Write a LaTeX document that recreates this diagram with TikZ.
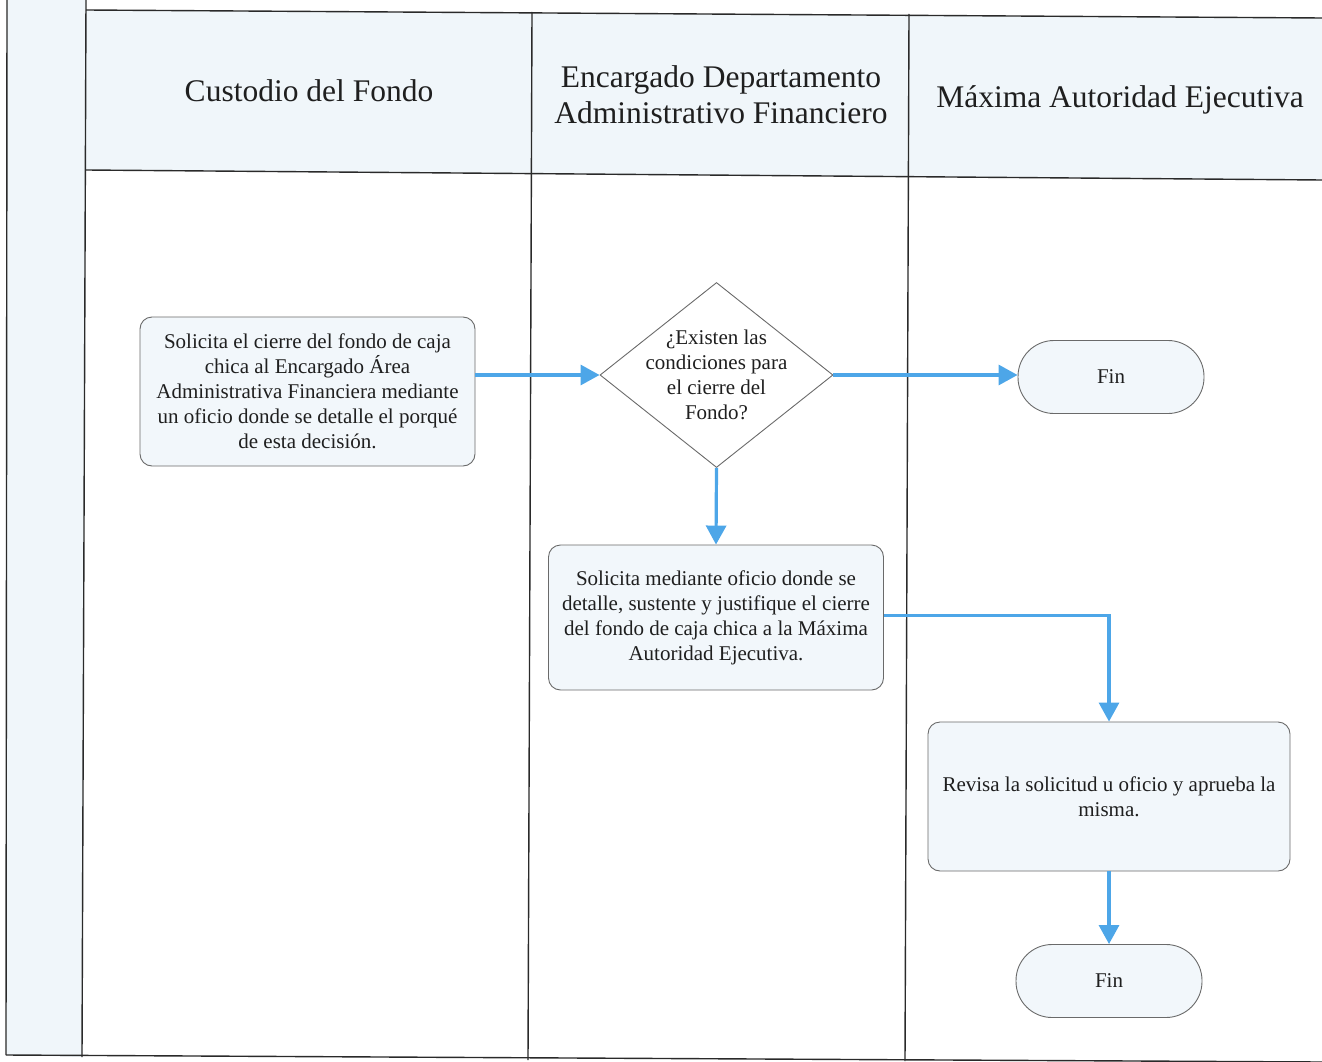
\documentclass[tikz,border=0pt]{standalone}
\usepackage{fontspec}
\setmainfont{Liberation Serif}
\usetikzlibrary{shapes.geometric,arrows.meta}
\definecolor{lanefill}{HTML}{F0F6FA}
\definecolor{boxfill}{HTML}{F2F7FB}
\definecolor{arrowblue}{HTML}{4DA6E8}
\definecolor{laneline}{HTML}{2A2A2A}
\definecolor{boxline}{HTML}{6A6A6A}
\tikzset{
  laneborder/.style={draw=laneline, line width=1.4pt},
  header/.style={font=\fontsize{31.5}{36}\selectfont, align=center, text=black!88},
  procbox/.style={draw=boxline, fill=boxfill, rounded corners=12pt, line width=0.9pt,
    font=\fontsize{21}{25}\selectfont, align=center, inner sep=0pt, text=black!88},
  decision/.style={diamond, draw=boxline, fill=white, line width=0.9pt, inner sep=0pt,
    minimum width=233pt, minimum height=185pt},
  terminal/.style={draw=boxline, fill=boxfill, rounded corners=36pt, line width=0.9pt,
    font=\fontsize{21}{25}\selectfont, inner sep=0pt, minimum width=186pt, minimum height=73pt, text=black!88},
  flow/.style={draw=arrowblue, line width=3.2pt, -{Triangle[width=20pt,length=19pt]}},
  lbl/.style={font=\fontsize{21}{25}\selectfont, align=center, text=black!88},
}
\begin{document}
\begin{tikzpicture}[x=1pt,y=-1pt]
\useasboundingbox (0,0) rectangle (1322,1062);
% fills
\fill[lanefill] (7,0) -- (86,0) -- (82,1057) -- (6,1055) -- cycle;
\fill[lanefill] (86,10) -- (1322,18) -- (1322,180) -- (86,170) -- cycle;
% lane borders
\draw[laneborder] (7,0) -- (6,1055);
\draw[laneborder] (86,0) -- (82,1057);
\draw[laneborder] (86,10) -- (1322,18);
\draw[laneborder] (86,170) -- (1322,180);
\draw[laneborder] (532,12) -- (528,1060);
\draw[laneborder] (909,14) -- (905,1061);
\draw[laneborder] (6,1055) -- (1322,1062);
% headers
\node[header] (h1) at (309,91) {Custodio del Fondo};
\node[header] (h2) at (721,95) {Encargado Departamento\\Administrativo Financiero};
\node[header] (h3) at (1120,100) {Máxima Autoridad Ejecutiva};
% nodes
\node[procbox, minimum width=335pt, minimum height=149pt] (b1) at (307.5,391.5)
  {Solicita el cierre del fondo de caja\\chica al Encargado Área\\Administrativa Financiera mediante\\un oficio donde se detalle el porqué\\de esta decisión.};
\node[decision] (d) at (716.5,375) {};
\node[lbl] (dt) at (d) {¿Existen las\\condiciones para\\el cierre del\\Fondo?};
\node[terminal] (f1) at (1111,377) {Fin};
\node[procbox, minimum width=335pt, minimum height=145pt] (b2) at (716,617.5)
  {Solicita mediante oficio donde se\\detalle, sustente y justifique el cierre\\del fondo de caja chica a la Máxima\\Autoridad Ejecutiva.};
\node[procbox, minimum width=362pt, minimum height=149pt] (b3) at (1109,796.5)
  {Revisa la solicitud u oficio y aprueba la\\misma.};
\node[terminal] (f2) at (1109,981) {Fin};
% connectors
\draw[flow] (b1.east |- d.west) -- (d.west);
\draw[flow] (d.east) -- (f1.west |- d.east);
\draw[flow] (d.south) -- (b2.north);
\draw[flow] ([yshift=2pt]b2.east) -| (b3.north);
\draw[flow] (b3.south) -- (f2.north);
\end{tikzpicture}
\end{document}
